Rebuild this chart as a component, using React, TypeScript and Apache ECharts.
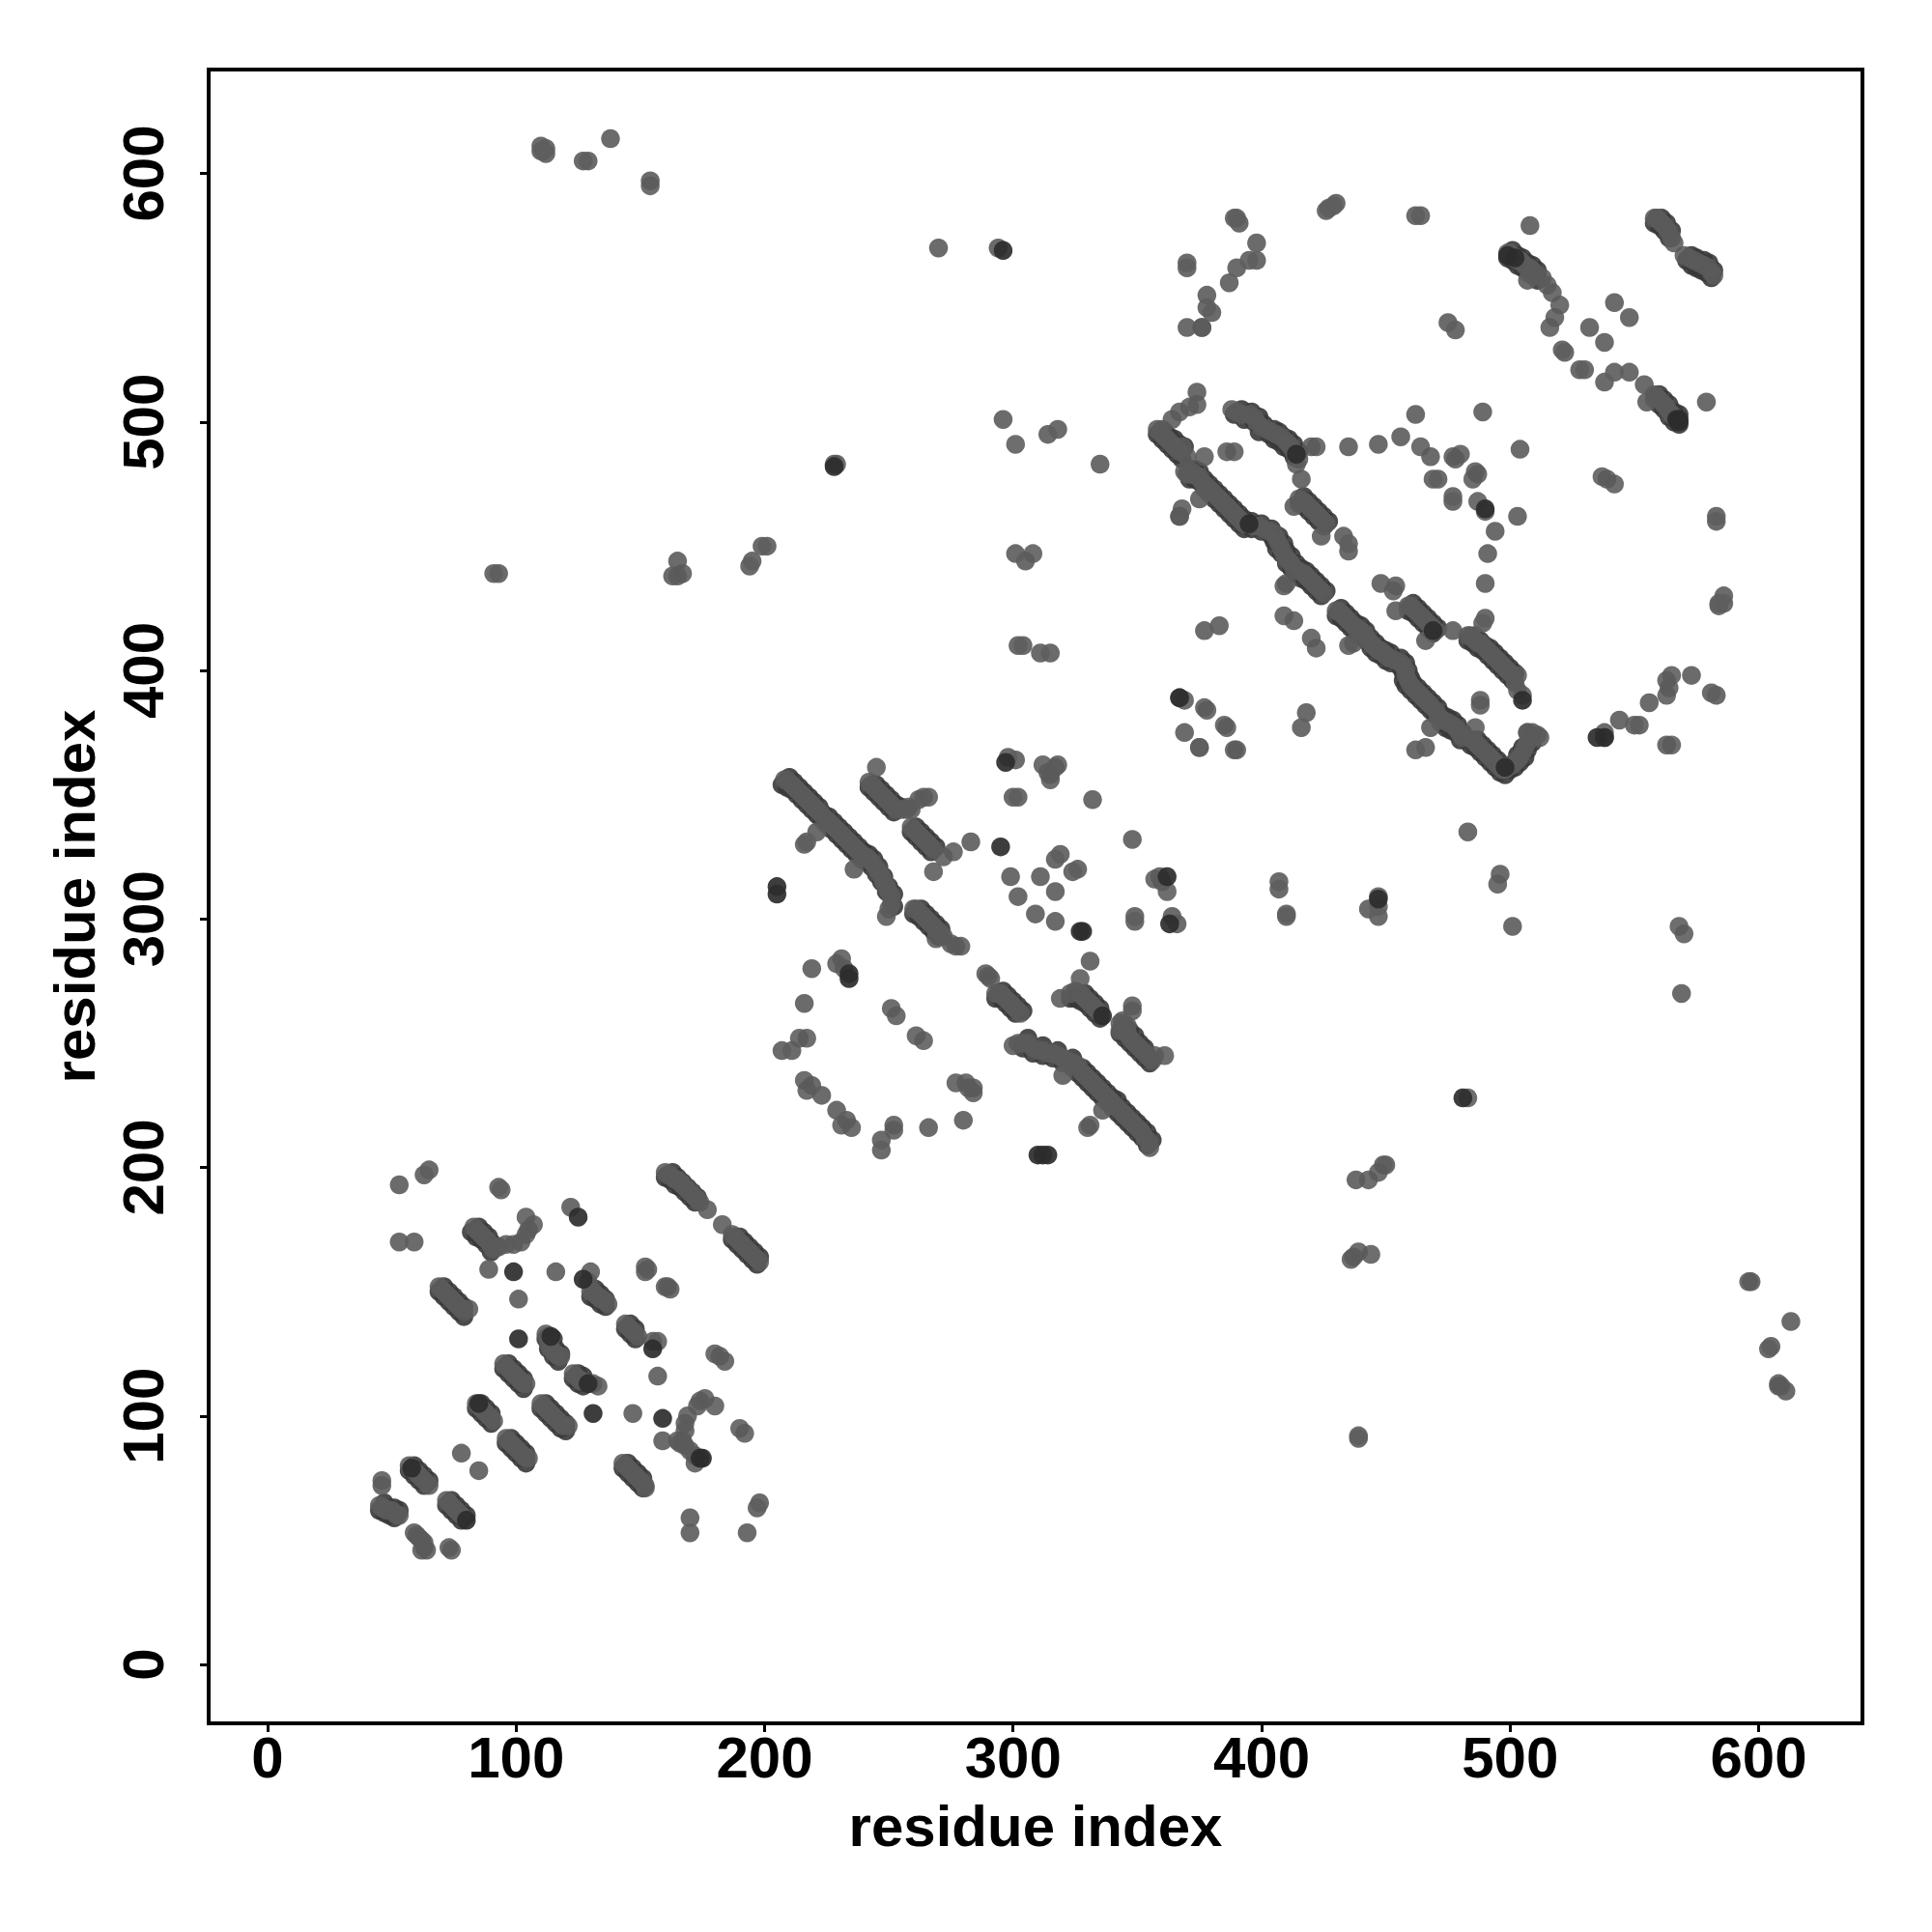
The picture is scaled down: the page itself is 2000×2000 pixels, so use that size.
import React, { useEffect, useRef } from "react";
import * as echarts from "echarts";

const tickValues = [0, 100, 200, 300, 400, 500, 600];
const axisTitle = "residue index";

// Isolated / paler contacts
const paleContacts = [
  [53,193],[63,197],[65,199],[94,191],[93,192],[53,170],[59,170],[122,184],[89,159],[116,158],[101,147],[157,116],[147,101],[78,85],[85,78],[170,59],[170,53],[193,53],[198,65],[197,63],[159,90],[46,72],
  [217,331],[216,330],[236,320],[221,335],[283,331],[300,349],[302,349],[298,365],[301,364],[332,348],[348,332],[375,369],[299,317],[311,317],[319,326],[317,324],[326,320],[324,319],[317,311],[302,309],[309,302],[317,299],[331,283],[349,301],[349,299],[364,301],[366,298],[219,280],[216,266],[207,247],[211,247],[219,233],[223,229],[229,223],[233,219],[247,211],[247,207],[266,216],[280,219],[320,237],[336,223],
  [374,512],[375,469],[369,375],[375,369],[377,416],[383,418],[418,383],[416,377],[416,477],[413,466],[424,454],[433,454],[435,451],[435,448],[435,490],[447,491],[456,494],[462,503],[489,504],[468,486],[469,477],[471,477],[477,470],[477,468],[490,435],[494,456],[491,447],[503,462],[504,489],[448,435],[454,434],[454,424],[466,412],[477,416],[490,421],[489,419],[468,377],[462,368],[466,369],
  [508,579],[507,557],[521,529],[522,528],[528,521],[530,521],[532,538],[542,548],[548,542],[538,532],[538,516],[542,520],[548,520],[554,515],[555,508],[579,508],[559,582],[583,462],[583,460],[586,427],[584,426],[538,375],[544,380],[550,378],[552,378],[556,387],[573,398],[581,391],[583,390],[511,374],[483,335],[496,318],[501,297],[407,315],[407,312],[410,302],[410,301],[443,304],[447,305],[447,301],[569,270],[438,195],[449,201],[450,201],[439,92],[439,91],[597,154],[613,138],[605,128],[604,127],[608,112],[611,110],
  [110,611],[111,609],[112,608],[112,610],[110,609],[138,614],[127,605],[129,605],[154,597],[270,570],[294,570],[335,483],[296,501],[314,495],[318,497],[91,439],[93,439],[165,444],[163,438],[195,444],[194,442],[199,450],[201,450],[301,447],[305,444],[302,410],[304,410],[311,407],[315,407],[376,538],[378,551],[378,546],[380,544],[387,556],[390,562],[395,565],[398,565],[398,572],[426,585],[427,586],[462,583],[464,583],[475,540],[478,537],
  [390,582],[391,580],[389,582],[370,562],[370,564],[370,538],[430,588],[429,587],[586,430],[563,370],[584,427],
];

// Darker layer that gives the dense strips their width
const stripEdgeContacts = [
  [160,196],[162,195],[164,193],[166,192],[168,190],[170,188],[172,186],[163,198],[165,196],[167,194],[169,192],[171,190],[173,188],
  [187,171],[189,169],[191,167],[193,165],[195,163],[197,161],[190,172],[192,170],[194,168],[196,166],[198,164],
  [82,174],[84,172],[86,171],[88,169],[90,166],[85,176],[87,174],[89,172],[91,169],
  [69,150],[71,148],[73,146],[75,144],[77,142],[79,140],[71,152],[73,150],[75,148],[77,146],[79,144],
  [130,148],[132,147],[134,145],[136,144],[132,151],[134,149],[136,147],[144,135],[146,133],[148,131],[146,137],[148,135],
  [112,131],[113,127],[115,124],[117,122],[115,131],[116,127],[118,125],
  [95,119],[97,117],[99,115],[101,113],[103,111],[97,121],[99,119],[101,117],[103,115],[123,115],[125,113],[127,112],[125,117],[127,116],
  [84,103],[86,101],[88,99],[90,97],[86,105],[88,103],[90,101],[110,103],[112,101],[114,99],[116,97],[118,95],[120,94],[112,105],[114,103],[116,101],[118,99],[120,97],
  [96,89],[98,87],[100,85],[102,83],[104,81],[98,91],[100,89],[102,87],[104,85],[57,78],[59,76],[61,74],[63,72],[59,80],[61,78],[63,76],[65,74],
  [72,64],[74,62],[76,60],[78,58],[74,66],[76,64],[78,62],[80,60],[143,79],[145,77],[147,75],[149,73],[151,71],[145,81],[147,79],[149,77],[151,75],
  [45,62],[47,61],[49,60],[51,59],[47,65],[49,63],[51,63],[53,62],
  [207,354],[209,353],[211,352],[213,350],[215,348],[217,346],[219,344],[221,342],[223,340],[225,338],[227,336],[229,334],[231,332],[233,330],[235,328],[237,326],[239,324],[241,323],[243,321],[245,318],[247,315],[249,311],
  [210,357],[212,355],[214,353],[216,351],[218,349],[220,347],[222,345],[224,342],[226,341],[228,339],[230,337],[232,335],[234,333],[236,331],[238,329],[240,327],[242,326],[244,324],[246,321],[248,317],[250,313],[252,310],[252,305],
  [242,353],[244,351],[246,349],[248,347],[250,345],[252,343],[245,354],[247,352],[249,350],[251,348],[253,346],[255,345],
  [259,335],[261,333],[263,331],[265,329],[267,327],[261,337],[263,335],[265,333],[267,331],[269,329],
  [260,302],[262,301],[264,299],[266,297],[268,295],[270,293],[263,304],[265,302],[267,300],[269,298],[271,296],
  [293,268],[295,268],[297,266],[299,264],[301,262],[296,271],[298,269],[300,267],[302,265],[304,263],
  [323,268],[325,268],[327,267],[329,266],[331,264],[333,262],[335,260],[329,270],[331,268],[333,266],[335,264],
  [343,254],[345,252],[347,250],[349,248],[351,246],[353,244],[355,242],[345,257],[347,255],[349,253],[351,250],[353,248],
  [304,248],[308,246],[312,245],[316,244],[320,242],[324,240],[326,238],[328,236],[330,234],[332,232],[334,230],[336,228],[338,226],[340,224],[342,222],[344,220],[346,218],[348,216],[350,214],[352,212],[354,209],
  [306,252],[312,249],[318,247],[324,244],[328,240],[330,238],[332,236],[334,234],[336,232],[338,230],[340,228],[342,227],[344,224],[346,222],[348,220],[350,218],[352,216],[354,214],[356,211],
  [358,495],[360,493],[362,491],[364,489],[366,487],[368,485],[361,496],[363,494],[365,493],[367,491],[369,490],
  [371,477],[373,477],[375,476],[377,473],[379,471],[381,469],[383,467],[385,465],[387,463],[389,461],[391,459],[393,457],[396,457],[400,456],[404,454],[405,452],[406,449],[408,447],[410,443],[412,441],[414,439],[416,437],[418,436],[420,434],[422,432],[424,430],
  [373,481],[375,480],[377,477],[379,475],[381,473],[383,471],[385,469],[387,467],[389,465],[391,463],[393,461],[396,460],[400,459],[404,457],[407,454],[409,451],[410,448],[412,446],[414,443],[416,441],[418,440],[420,438],[422,436],[424,434],[426,432],
  [389,503],[393,501],[397,500],[399,496],[403,495],[405,493],[407,492],[409,490],[411,489],[413,486],[392,505],[396,504],[399,502],[401,499],[405,497],[407,496],[409,494],[411,493],[413,491],[415,488],
  [415,467],[417,466],[419,464],[421,462],[423,460],[425,458],[417,470],[419,468],[421,466],[423,464],[425,462],[427,460],
  [459,424],[461,423],[463,421],[465,419],[467,417],[469,415],[461,427],[463,425],[465,423],[467,421],[469,419],[471,417],
  [483,412],[485,411],[487,409],[489,408],[491,406],[493,404],[495,402],[497,400],[499,398],[501,396],[486,414],[488,412],[490,410],[492,409],[494,407],[496,405],[498,403],[500,401],[502,399],
  [430,422],[432,421],[434,419],[436,417],[438,415],[440,414],[442,412],[444,409],[446,407],[448,406],[450,404],[452,403],[456,401],[457,399],[457,396],[458,394],[460,392],[462,390],[464,388],[466,386],[468,384],[470,382],[472,379],[474,377],[476,376],[478,375],[480,372],
  [432,425],[434,423],[436,421],[438,419],[440,418],[442,416],[444,413],[446,411],[448,409],[450,408],[452,407],[456,405],[458,403],[459,400],[460,397],[461,395],[463,393],[465,391],[467,389],[469,387],[471,385],[473,382],[475,381],[477,380],[479,378],[481,375],
  [484,370],[486,369],[488,367],[490,365],[492,363],[494,361],[496,359],[498,358],[500,360],[502,361],[504,363],[506,365],[507,368],[509,371],[487,372],[489,370],[491,368],[493,366],[495,364],[497,362],[503,366],[505,369],
  [499,566],[501,565],[503,563],[505,562],[507,560],[509,559],[511,557],[501,569],[503,567],[505,566],[507,564],[509,563],[511,561],
  [558,509],[560,507],[562,505],[564,502],[566,500],[568,499],[560,511],[562,509],[564,507],[566,504],[568,503],
  [558,580],[560,579],[562,577],[564,574],[571,565],[573,563],[575,562],[577,561],[579,560],[581,558],[561,582],[563,580],[565,577],[573,567],[575,566],[578,565],[580,564],[582,561],
];

// Contacts along the dense anti-diagonal strips
const stripContacts = [
  [160,198],[161,197],[162,197],[163,196],[164,195],[165,195],[166,194],[167,193],[168,192],[169,191],[170,190],[171,189],[172,188],[173,187],[174,186],[177,183],[183,177],[187,173],[188,172],[189,171],[190,170],[191,169],[192,168],[193,167],[194,166],[195,165],[196,164],[197,163],[198,162],
  [83,176],[84,175],[85,174],[86,173],[87,172],[88,171],[89,170],[90,168],[91,167],[92,168],[93,168],[96,169],[99,169],[102,170],[104,173],[104,180],[107,177],[105,175],
  [130,158],[129,154],[130,150],[131,150],[132,149],[133,148],[134,147],[135,147],[136,146],[137,145],[144,137],[145,136],[146,135],[147,134],[148,133],[149,132],[155,130],[157,130],[152,160],[152,158],[153,159],[160,152],[161,152],[162,151],[180,125],[182,124],[184,122],
  [176,107],[174,106],[180,104],[173,104],[169,100],[168,97],[168,94],[167,90],[165,90],[166,89],[168,88],[170,86],[172,84],[172,81],[190,95],[192,93],[143,81],[144,80],[145,79],[146,78],[147,77],[148,76],[149,75],[150,74],[151,73],[152,72],[152,71],
  [69,152],[70,151],[71,150],[72,149],[73,148],[74,147],[75,146],[76,145],[77,144],[78,143],[79,142],[81,143],[112,133],[113,132],[114,131],[113,129],[114,127],[115,126],[116,125],[117,124],[118,124],
  [95,121],[96,120],[97,119],[98,118],[99,117],[100,116],[101,115],[102,114],[103,113],[104,113],[123,117],[124,116],[125,115],[126,114],[127,114],[131,113],[133,112],
  [84,105],[85,104],[86,103],[87,102],[88,101],[89,100],[90,99],[91,98],[110,105],[111,104],[112,103],[113,102],[114,101],[115,100],[116,99],[117,98],[118,97],[119,96],[121,96],
  [96,91],[97,90],[98,89],[99,88],[100,87],[101,86],[102,85],[103,84],[104,83],[105,83],[57,80],[59,78],[60,77],[61,76],[62,75],[63,74],[64,73],[65,72],[72,66],[73,65],[74,64],[75,63],[76,62],[77,61],[78,60],[46,74],[45,64],[46,63],[47,63],[48,62],[50,62],[51,61],[52,60],[53,60],[59,53],[60,52],[61,51],[62,50],[63,49],[63,47],[62,46],[64,46],[74,46],[73,47],
  [208,356],[209,356],[210,355],[211,354],[212,353],[213,352],[214,351],[215,350],[216,349],[217,348],[218,347],[219,346],[220,345],[221,344],[222,343],[223,342],[225,340],[226,339],[227,338],[228,337],[229,336],[230,335],[231,334],[232,333],[233,332],[234,331],[235,330],[236,329],[237,328],[238,327],[239,326],[240,325],[241,325],[242,324],[243,323],[244,322],[245,320],[246,319],[247,317],[248,315],[249,313],[250,311],[251,309],[251,306],[250,304],[249,301],
  [245,361],[242,355],[243,354],[244,353],[245,352],[246,351],[247,350],[248,349],[249,348],[250,347],[251,346],[252,345],[253,344],[255,344],[257,344],[258,345],[259,344],[262,348],[264,349],[266,349],
  [259,337],[260,336],[261,335],[262,334],[263,333],[264,332],[265,331],[266,330],[267,329],[268,328],[272,325],[276,327],[268,319],[312,362],[318,362],[315,358],[314,359],[317,361],[315,356],[357,316],[360,315],[362,311],[359,317],
  [260,304],[261,304],[262,303],[263,302],[264,301],[265,300],[266,299],[267,298],[268,297],[269,296],[270,295],[271,294],[272,293],[275,290],[277,289],[279,289],[269,292],[231,284],[229,282],[232,280],[251,264],[253,261],[261,253],[264,251],[217,252],[214,252],[216,235],[217,231],[231,217],[235,216],[252,217],[252,215],[277,234],[281,234],[282,232],[284,232],[284,230],
  [289,278],[290,277],[291,276],[293,270],[294,270],[295,270],[296,269],[297,268],[298,267],[299,266],[300,265],[301,264],[302,263],[303,262],[319,268],[327,276],[323,270],[325,271],[327,270],[328,269],[329,268],[330,267],[331,266],[332,265],[333,264],[334,263],[335,262],
  [348,265],[348,263],[344,259],[343,255],[346,257],[343,258],[344,256],[345,255],[346,254],[347,252],[348,251],[349,250],[350,249],[351,248],[352,247],[353,246],[354,245],[355,244],[356,243],[361,245],[357,245],
  [300,249],[302,250],[304,250],[306,250],[308,248],[310,247],[312,247],[314,246],[316,246],[318,245],[320,244],[322,243],[324,242],[326,241],[327,239],[328,238],[329,237],[330,236],[331,235],[332,234],[333,233],[334,232],[335,231],[336,230],[337,229],[338,228],[339,227],[340,226],[341,225],[342,224],[343,223],[344,222],[345,221],[346,220],[347,219],[348,218],[349,217],[350,216],[351,215],[352,214],[353,212],[354,211],[355,210],[355,208],[331,217],[330,216],
  [374,507],[371,506],[367,504],[364,501],[360,497],[358,497],[359,496],[360,495],[361,494],[362,493],[363,492],[364,491],[365,490],[366,489],[367,488],[368,490],[370,486],[377,486],[386,488],[389,488],[369,480],[370,479],[371,479],[372,480],[373,479],[374,478],[375,478],[376,476],[377,475],[378,474],[379,473],[380,472],[381,471],[382,470],[383,469],[384,468],[385,467],[386,466],[387,465],[388,464],[389,463],[390,462],[391,461],[392,460],[393,459],[397,458],[399,458],[401,457],[403,456],[405,455],[406,453],[407,451],[408,449],[409,447],[410,445],[411,444],[412,443],[413,441],[415,440],[417,439],[418,438],[419,437],[420,436],[421,435],[422,434],[423,433],[424,432],[425,431],[410,435],[409,434],[368,465],[367,462],
  [388,505],[390,504],[392,503],[395,503],[397,502],[398,500],[400,498],[402,497],[404,496],[406,495],[408,494],[410,492],[411,491],[412,490],[413,488],[415,485],[414,483],[420,490],[422,490],[415,469],[416,468],[417,468],[418,467],[419,466],[420,465],[421,464],[422,463],[423,462],[424,461],[425,460],[426,459],[464,490],[477,486],[480,487],[478,485],[486,480],[485,477],[487,479],[487,468],[490,464],
  [453,432],[459,426],[460,426],[461,425],[462,424],[463,423],[464,422],[465,421],[466,420],[467,419],[468,418],[469,417],[470,416],[483,414],[484,414],[485,413],[486,412],[487,411],[488,411],[489,410],[490,409],[491,408],[492,407],[493,406],[494,405],[495,404],[496,403],[497,402],[498,401],[499,400],[500,399],[503,398],[502,395],[503,392],[505,390],[488,388],[488,386],
  [367,389],[369,388],[377,385],[378,384],[385,378],[386,377],[389,368],[390,368],[409,422],[413,420],[420,413],[422,409],
  [430,424],[431,424],[432,423],[433,422],[434,421],[435,420],[436,419],[437,418],[438,417],[439,417],[440,416],[441,415],[442,414],[443,412],[444,411],[445,410],[446,409],[447,408],[448,408],[449,407],[450,406],[451,405],[452,405],[454,404],[456,403],[457,402],[458,400],[458,398],[459,396],[460,394],[461,393],[462,392],[463,391],[464,390],[465,389],[466,388],[467,387],[468,386],[470,384],[471,382],[473,380],[475,379],[477,378],[478,377],[479,376],[480,374],[481,373],[435,410],[437,411],[486,377],
  [485,372],[486,371],[487,370],[488,369],[489,368],[490,367],[491,366],[492,365],[493,364],[494,363],[495,362],[496,361],[497,360],[498,360],[499,361],[500,362],[501,362],[502,363],[503,364],[504,365],[505,367],[506,369],[507,371],[508,373],[509,375],[507,375],[512,373],
  [499,568],[500,568],[501,567],[502,566],[503,565],[504,565],[505,564],[506,563],[507,562],[508,562],[509,561],[510,560],[511,559],[513,558],[515,555],[517,552],[520,547],[518,542],[516,538],
  [558,511],[559,510],[560,509],[561,508],[562,507],[563,506],[564,504],[565,503],[566,502],[558,582],[559,582],[560,581],[561,580],[562,579],[563,578],[564,576],[565,574],[566,572],[570,567],[572,566],[574,565],[576,564],[578,563],[580,562],[581,560],[582,559],
  [537,478],[539,477],[542,475],[538,373],[563,390],[564,393],[563,396],[565,398],[565,370],[507,375],[495,314],[447,309],[570,294],[568,297],[483,228],[443,195],[447,198],[436,163],[439,166],[444,165],[437,164],[596,154],[608,113],[609,112],
  [154,595],[367,462],[376,538],[308,447],[167,439],[165,438],[228,483],[229,483],[301,491],
];

// Darkest contacts, drawn on top
const deepContacts = [
  [125,180],[175,83],[174,83],[99,158],[127,155],[155,127],[114,132],[101,131],[159,99],[131,101],[129,113],[80,58],[58,79],[85,105],
  [205,313],[205,310],[295,329],[297,363],[234,278],[234,276],[328,295],[327,295],[363,298],[336,261],[310,205],[312,205],[314,205],[395,459],[414,487],[490,465],[367,389],[538,373],[535,373],[296,569],[228,482],[568,500],[567,501],[568,501],[499,567],[502,566],[362,317],[469,416],[505,388],[447,308],[481,228],[498,361],
];

const scatter = (data: number[][], color: string, opacity: number, z: number) => ({
  type: "scatter",
  data,
  symbol: "circle",
  symbolSize: 19.5,
  z,
  silent: true,
  itemStyle: { color, opacity },
});

const axisBase = {
  type: "value",
  min: -23.7,
  max: 641.8,
  name: axisTitle,
  nameLocation: "middle",
  nameTextStyle: { color: "#000", fontFamily: "Liberation Sans", fontWeight: "bold", fontSize: 60 },
  splitLine: { show: false },
  axisLine: { show: false, onZero: false },
  axisTick: { show: true, length: 9, customValues: tickValues, lineStyle: { color: "#000", width: 3 } },
};

const labelBase = {
  show: true,
  customValues: tickValues,
  color: "#000",
  fontFamily: "Liberation Sans",
  fontWeight: "bold",
  fontSize: 60,
};

export default function App() {
  const ref = useRef<HTMLDivElement>(null);
  useEffect(() => {
    const chart = echarts.init(ref.current!, null, { renderer: "svg" });
    chart.setOption({
      animation: false,
      backgroundColor: "#fff",
      grid: { left: 216, top: 72, width: 1712, height: 1712, show: true, borderColor: "#000", borderWidth: 4, backgroundColor: "transparent" },
      xAxis: { ...axisBase, nameGap: 76, axisLabel: { ...labelBase, margin: 5 } },
      yAxis: { ...axisBase, nameGap: 109, axisLabel: { ...labelBase, margin: 38, rotate: 90 } },
      series: [
        scatter(stripEdgeContacts, "#383838", 0.9, 1),
        scatter(paleContacts, "#5e5e5e", 0.92, 2),
        scatter(stripContacts, "#5a5a5a", 0.88, 3),
        scatter(deepContacts, "#2c2c2c", 0.92, 4),
      ],
    });
    return () => chart.dispose();
  }, []);
  return <div ref={ref} style={{ position: "absolute", left: 0, top: 0, width: 2000, height: 2000 }} />;
}
